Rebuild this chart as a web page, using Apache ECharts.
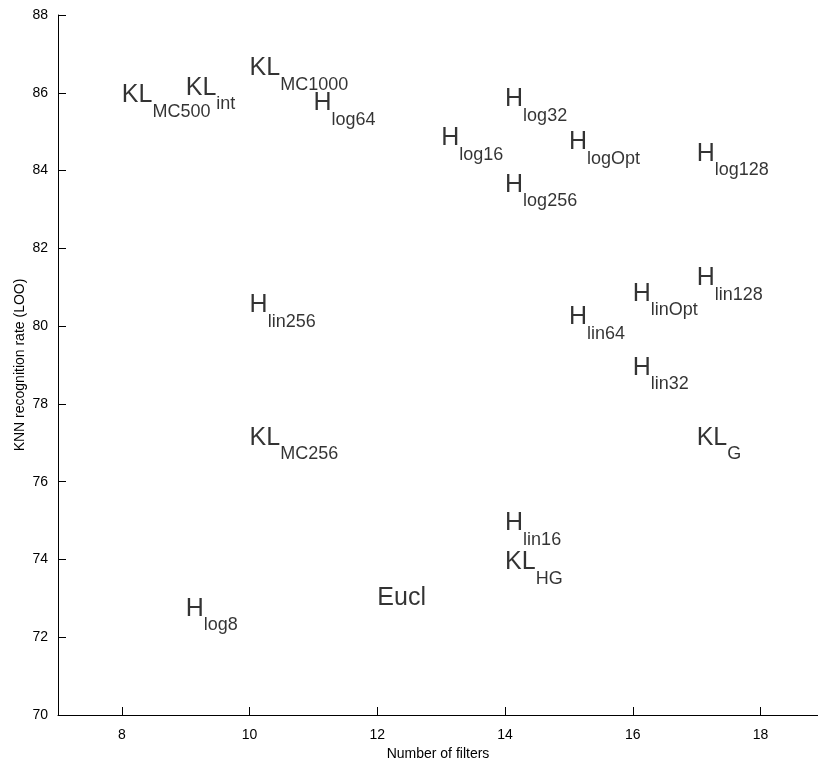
<!DOCTYPE html>
<html>
<head>
<meta charset="utf-8">
<script src="https://cdn.jsdelivr.net/npm/echarts@6/dist/echarts.min.js"></script>
<style>
    html, body { margin: 0; padding: 0; background: #fff; }
    #chart { width: 818px; height: 767px; }
</style>
</head>
<body>
<div id="chart"></div>
<script>
// 每个点的数据：滤波器数量、识别率、标签（主体 + 下标）
var filterCounts = [8, 9, 10, 11, 14, 13, 15, 17, 14, 10, 17, 16, 15, 16, 10, 17, 14, 14, 9, 12];
var recognitionRates = [85.8, 86.0, 86.5, 85.6, 85.7, 84.7, 84.6, 84.3, 83.5, 80.4, 81.1, 80.7, 80.1, 78.8, 77.0, 77.0, 74.8, 73.8, 72.6, 73.0];
var labelMain = ['KL', 'KL', 'KL', 'H', 'H', 'H', 'H', 'H', 'H', 'H', 'H', 'H', 'H', 'H', 'KL', 'KL', 'H', 'KL', 'H', 'Eucl'];
var labelSub = ['MC500', 'int', 'MC1000', 'log64', 'log32', 'log16', 'logOpt', 'log128', 'log256',
    'lin256', 'lin128', 'linOpt', 'lin64', 'lin32', 'MC256', 'G', 'lin16', 'HG', 'log8', ''];
var xTicks = [8, 10, 12, 14, 16, 18];

var fontName = 'Liberation Sans, Arial, sans-serif';

var points = [];
for (var i = 0; i < filterCounts.length; i++) {
    points.push({
        value: [filterCounts[i], recognitionRates[i]],
        main: labelMain[i],
        sub: labelSub[i],
        // 带下标的标签整体上移，保持和 matlab 一样的垂直居中
        label: { offset: labelSub[i] ? [0, -5] : [0, 0] }
    });
}

var chart = echarts.init(document.getElementById('chart'));
chart.setOption({
    animation: false,
    backgroundColor: '#fff',
    grid: {
        left: 58,
        right: 0,
        top: 15,
        bottom: 52
    },
    xAxis: {
        type: 'value',
        min: 7,
        max: 18.9,
        name: 'Number of filters',
        nameLocation: 'middle',
        nameGap: 32,
        nameMoveOverlap: false,
        nameTextStyle: { color: '#000', fontSize: 14, fontFamily: fontName },
        axisLine: { show: true, lineStyle: { color: '#000', width: 1 } },
        axisTick: { show: true, inside: true, length: 8, customValues: xTicks, lineStyle: { color: '#000' } },
        axisLabel: { customValues: xTicks, color: '#000', fontSize: 14, fontFamily: fontName, margin: 13 },
        splitLine: { show: false }
    },
    yAxis: {
        type: 'value',
        min: 70,
        max: 88,
        interval: 2,
        name: 'KNN recognition rate (LOO)',
        nameLocation: 'middle',
        nameGap: 31,
        nameMoveOverlap: false,
        nameTextStyle: { color: '#000', fontSize: 14, fontFamily: fontName },
        axisLine: { show: true, lineStyle: { color: '#000', width: 1 } },
        axisTick: { show: true, inside: true, length: 8, lineStyle: { color: '#000' } },
        axisLabel: { color: '#000', fontSize: 14, fontFamily: fontName, margin: 10 },
        splitLine: { show: false }
    },
    series: [{
        type: 'scatter',
        symbolSize: 0,
        itemStyle: { color: 'rgba(0,0,0,0)' },
        data: points,
        label: {
            show: true,
            position: 'right',
            distance: 0,
            color: '#000',
            formatter: function (p) {
                if (!p.data.sub) return '{m|' + p.data.main + '}';
                return '{m|' + p.data.main + '}{s|' + p.data.sub + '}';
            },
            rich: {
                m: { fontSize: 25, lineHeight: 25, color: '#000', fontFamily: fontName, verticalAlign: 'top' },
                s: { fontSize: 18, lineHeight: 18, color: '#000', fontFamily: fontName, verticalAlign: 'top', padding: [20, 0, 0, 0] }
            }
        }
    }]
});
</script>
</body>
</html>
